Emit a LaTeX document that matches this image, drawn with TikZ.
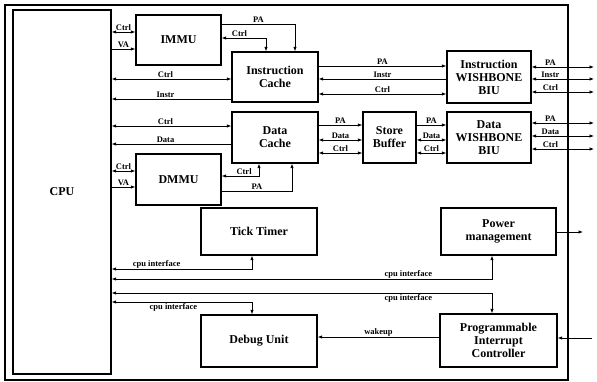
\documentclass[tikz,border=0pt]{standalone}
\usepackage{fontspec}
\setmainfont{Liberation Serif}
\usetikzlibrary{arrows.meta}

\begin{document}
\begin{tikzpicture}[x=1pt,y=-1pt,line width=0.7pt,>={Latex[length=4.5pt,width=3.5pt]},
    blk/.style={draw,line width=1.4pt,inner sep=0pt,align=center,font=\bfseries\fontsize{12}{13}\selectfont},
    lbl/.style={font=\bfseries\fontsize{8.5}{9}\selectfont,inner sep=0.8pt}]
      \useasboundingbox (0,0) rectangle (597,382);
      \draw[line width=1.4pt] (5,5) rectangle (568,380);

      % blocks
      \node[blk,minimum width=98,minimum height=364] (cpu) at (62,192) {CPU};
      \node[blk,minimum width=85,minimum height=50] (immu) at (178.5,40) {IMMU};
      \node[blk,minimum width=86,minimum height=50] (icache) at (275,77) {Instruction\\Cache};
      \node[blk,minimum width=84,minimum height=52] (ibiu) at (489,77) {Instruction\\WISHBONE\\BIU};
      \node[blk,minimum width=86,minimum height=51] (dcache) at (275,137.5) {Data\\Cache};
      \node[blk,minimum width=53,minimum height=51] (sbuf) at (389.5,137.5) {Store\\Buffer};
      \node[blk,minimum width=84,minimum height=51] (dbiu) at (489,137.5) {Data\\WISHBONE\\BIU};
      \node[blk,minimum width=85,minimum height=51] (dmmu) at (178.5,179.5) {DMMU};
      \node[blk,minimum width=116,minimum height=47] (tick) at (259,231.5) {Tick Timer};
      \node[blk,minimum width=115,minimum height=47] (pm) at (498.5,231.5) {Power\\management};
      \node[blk,minimum width=116,minimum height=52] (debug) at (259,341) {Debug Unit};
      \node[blk,minimum width=117,minimum height=53] (pic) at (498.5,340.5) {Programmable\\Interrupt\\Controller};

      \coordinate (ext) at (594,0);
      \coordinate (pmout) at (583,232);
      \coordinate (irq) at (592,338);

      % instruction side
      \draw[<->] (cpu.east |- 0,32) -- node[lbl,above] {Ctrl} (immu.west |- 0,32);
      \draw[->] (cpu.east |- 0,49) -- node[lbl,above] {VA} (immu.west |- 0,49);
      \draw[->] (immu.east |- 0,24) -| node[lbl,above,pos=0.25] {PA} (icache.north -| 295,0);
      \draw[<->] (immu.east |- 0,38) -| node[lbl,above,pos=0.2] {Ctrl} (icache.north -| 266,0);
      \draw[<->] (cpu.east |- 0,79) -- node[lbl,above,pos=0.45] {Ctrl} (icache.west |- 0,79);
      \draw[<-] (cpu.east |- 0,99) -- node[lbl,above,pos=0.45] {Instr} (icache.west |- 0,99);
      \draw[->] (icache.east |- 0,66) -- node[lbl,above] {PA} (ibiu.west |- 0,66);
      \draw[<-] (icache.east |- 0,79) -- node[lbl,above] {Instr} (ibiu.west |- 0,79);
      \draw[<->] (icache.east |- 0,94) -- node[lbl,above] {Ctrl} (ibiu.west |- 0,94);
      \draw[<->] (ibiu.east |- 0,67) -- node[lbl,above,pos=0.3] {PA} (ext |- 0,67);
      \draw[<->] (ibiu.east |- 0,79) -- node[lbl,above,pos=0.3] {Instr} (ext |- 0,79);
      \draw[<->] (ibiu.east |- 0,92) -- node[lbl,above,pos=0.3] {Ctrl} (ext |- 0,92);

      % data side
      \draw[<->] (cpu.east |- 0,126) -- node[lbl,above,pos=0.45] {Ctrl} (dcache.west |- 0,126);
      \draw[<-] (cpu.east |- 0,144) -- node[lbl,above,pos=0.45] {Data} (dcache.west |- 0,144);
      \draw[<->] (cpu.east |- 0,171) -- node[lbl,above] {Ctrl} (dmmu.west |- 0,171);
      \draw[->] (cpu.east |- 0,187) -- node[lbl,above] {VA} (dmmu.west |- 0,187);
      \draw[<->] (dmmu.east |- 0,176) -| node[lbl,above,pos=0.3] {Ctrl} (dcache.south -| 259,0);
      \draw[->] (dmmu.east |- 0,191) -| node[lbl,above,pos=0.25] {PA} (dcache.south -| 292,0);
      \draw[->] (dcache.east |- 0,125) -- node[lbl,above] {PA} (sbuf.west |- 0,125);
      \draw[<->] (dcache.east |- 0,140) -- node[lbl,above] {Data} (sbuf.west |- 0,140);
      \draw[<->] (dcache.east |- 0,153) -- node[lbl,above] {Ctrl} (sbuf.west |- 0,153);
      \draw[->] (sbuf.east |- 0,125) -- node[lbl,above] {PA} (dbiu.west |- 0,125);
      \draw[<->] (sbuf.east |- 0,140) -- node[lbl,above] {Data} (dbiu.west |- 0,140);
      \draw[<->] (sbuf.east |- 0,153) -- node[lbl,above] {Ctrl} (dbiu.west |- 0,153);
      \draw[<->] (dbiu.east |- 0,123) -- node[lbl,above,pos=0.3] {PA} (ext |- 0,123);
      \draw[<->] (dbiu.east |- 0,136) -- node[lbl,above,pos=0.3] {Data} (ext |- 0,136);
      \draw[<->] (dbiu.east |- 0,149) -- node[lbl,above,pos=0.3] {Ctrl} (ext |- 0,149);

      % cpu interface
      \draw[<->] (tick.south -| 252,0) |- node[lbl,above,pos=0.84] {cpu interface} (cpu.east |- 0,269);
      \draw[<->] (pm.south -| 492,0) |- node[lbl,above,pos=0.61] {cpu interface} (cpu.east |- 0,279);
      \draw[<->] (cpu.east |- 0,293) -| node[lbl,below,pos=0.39] {cpu interface} (pic.north -| 492,0);
      \draw[<->] (cpu.east |- 0,302) -| node[lbl,below,pos=0.22] {cpu interface} (debug.north -| 252,0);
      \draw[->] (pic.west |- 0,337) -- node[lbl,above] {wakeup} (debug.east |- 0,337);
      \draw[->] (pm.east |- pmout) -- (pmout);
      \draw[->] (irq) -- (pic.east |- irq);
\end{tikzpicture}
\end{document}
